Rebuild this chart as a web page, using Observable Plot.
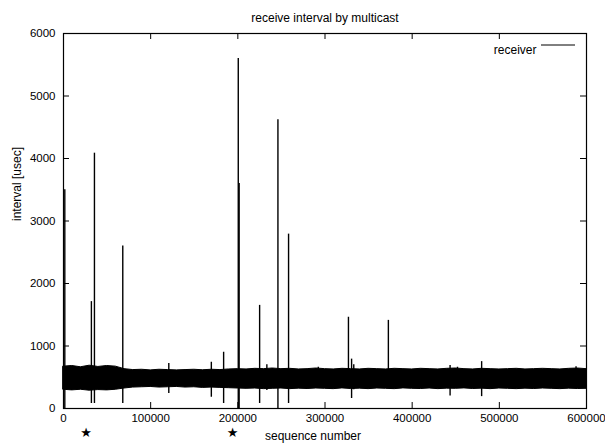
<!DOCTYPE html>
<html>
<head>
<meta charset="utf-8">
<script src="https://cdn.jsdelivr.net/npm/d3@7"></script>
<script src="https://cdn.jsdelivr.net/npm/@observablehq/plot@0.6"></script>
<style>
  html, body { margin: 0; padding: 0; background: #fff; }
  #chart { width: 605px; height: 447px; }
</style>
</head>
<body>
<div id="chart"></div>
<script>
// ---- data ----
const titleText = "receive interval by multicast";
const xLabel = "sequence number";
const yLabel = "interval [usec]";
const legendLabel = "receiver";

const xTicks = [0, 100000, 200000, 300000, 400000, 500000, 600000];
const yTicks = [0, 1000, 2000, 3000, 4000, 5000, 6000];

// envelope of the dense noise band (sampled every 10000)
const bandSeq = [0,10000,20000,30000,40000,50000,60000,70000,80000,90000,
  100000,110000,120000,130000,140000,150000,160000,170000,180000,190000,
  200000,210000,220000,230000,240000,250000,260000,270000,280000,290000,
  300000,310000,320000,330000,340000,350000,360000,370000,380000,390000,
  400000,410000,420000,430000,440000,450000,460000,470000,480000,490000,
  500000,510000,520000,530000,540000,550000,560000,570000,580000,590000,600000];
const bandHi = [670,680,660,685,665,680,670,630,615,620,
  610,620,615,610,615,620,612,620,615,625,
  630,625,635,630,640,630,635,625,630,640,
  630,625,635,630,625,635,630,625,635,630,
  625,635,630,625,635,640,630,625,635,630,
  625,630,635,625,630,635,630,625,635,640,630];
const bandLo = [300,290,300,285,295,290,300,320,335,340,
  345,335,340,345,335,340,330,335,330,325,
  320,315,320,310,315,320,310,318,312,320,
  315,310,322,312,318,310,320,315,310,322,
  315,312,320,310,318,315,322,312,318,310,
  320,315,310,318,312,320,315,310,318,312,315];

// isolated spikes: sequence, top and bottom of the excursion
const spikeSeq = [1500, 32000, 35500, 68000, 120800, 169600, 183700, 200500, 201500,
  225000, 233300, 246000, 258200, 292300, 326900, 330500, 333000, 372700,
  443500, 452000, 479700, 588000];
const spikeTop = [3500, 1710, 4085, 2600, 720, 740, 900, 5600, 3600,
  1650, 700, 4620, 2790, 660, 1460, 790, 700, 1410,
  690, 660, 750, 670];
const spikeBottom = [0, 80, 80, 80, 240, 180, 80, 0, 0,
  80, 290, 0, 80, 330, 320, 160, 300, 320,
  200, 320, 190, 320];

const starSeq = [26000, 194000];

// ---- build tables ----
const band = bandSeq.map((s, i) => ({seq: s, hi: bandHi[i], lo: bandLo[i]}));
const spikes = spikeSeq.map((s, i) => ({seq: s, hi: spikeTop[i], lo: spikeBottom[i]}));

const W = 605, H = 447, ML = 63, MR = 19, MT = 33, MB = 39;
const PW = W - ML - MR, PH = H - MT - MB;
const TICK = 6;
const font = "'Liberation Sans', Arial, Helvetica, sans-serif";

const plot = Plot.plot({
  width: W, height: H,
  marginLeft: ML, marginRight: MR, marginTop: MT, marginBottom: MB,
  style: {fontFamily: font, fontSize: "11.5px", background: "#fff", color: "#000", overflow: "visible"},
  x: {domain: [0, 600000]},
  y: {domain: [0, 6000]},
  marks: [
    Plot.areaY(band, {x: "seq", y1: "lo", y2: "hi", fill: "#000", stroke: "#000", strokeWidth: 1}),
    Plot.ruleX(spikes, {x: "seq", y1: "lo", y2: "hi", stroke: "#000", strokeWidth: 1.4}),
    Plot.frame({stroke: "#000", strokeWidth: 1.2}),
    Plot.tickY(yTicks, {y: d => d, insetRight: PW - TICK, stroke: "#000"}),
    Plot.tickY(yTicks, {y: d => d, insetLeft: PW - TICK, stroke: "#000"}),
    Plot.tickX(xTicks, {x: d => d, insetTop: PH - TICK, stroke: "#000"}),
    Plot.tickX(xTicks, {x: d => d, insetBottom: PH - TICK, stroke: "#000"}),
    Plot.axisY(yTicks, {tickSize: 0, tickPadding: 8, label: null, tickFormat: d => String(d)}),
    Plot.axisX(xTicks, {tickSize: 0, tickPadding: 5, label: null, tickFormat: d => String(d)}),
    Plot.text([titleText], {frameAnchor: "top", dy: -20, fontSize: 12, fill: "#000"}),
    Plot.text([xLabel], {frameAnchor: "bottom", dy: 31, dx: -12, fontSize: 12, fill: "#000"}),
    Plot.text([yLabel], {frameAnchor: "left", dx: -46, rotate: -90, fontSize: 12, fill: "#000"}),
    Plot.text(starSeq, {x: d => d, frameAnchor: "bottom", dy: 28, text: () => "\u2605", fontSize: 13, fontFamily: "DejaVu Sans", fill: "#000"}),
    Plot.text([legendLabel], {frameAnchor: "top-right", dx: -50, dy: 12, textAnchor: "end", fontSize: 12, fill: "#000"})
  ]
});

// legend sample line
const svg = d3.select(plot);
svg.append("line")
  .attr("x1", W - MR - 45).attr("x2", W - MR - 11)
  .attr("y1", MT + 12).attr("y2", MT + 12)
  .attr("stroke", "#000").attr("stroke-width", 1);

document.getElementById("chart").appendChild(plot);
</script>
</body>
</html>
